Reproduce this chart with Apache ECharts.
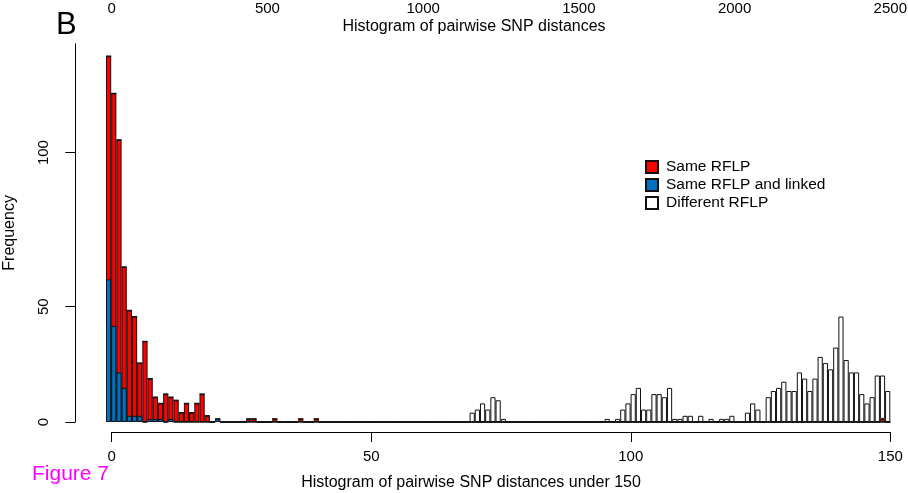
<!DOCTYPE html>
<html>
<head>
<meta charset="utf-8">
<script src="https://cdn.jsdelivr.net/npm/echarts@6/dist/echarts.min.js"></script>
<style>html,body{margin:0;padding:0;background:#fff}#c{width:908px;height:493px}</style>
</head>
<body>
<div id="c"></div>
<script>
// Bin k holds pairwise SNP distance k (bars span k-1..k)
const bins = Array.from({length:151}, (_, k) => String(k));

// Same RFLP (red)
const sameRFLP = [
118,106,91,50,36,34,19,26,14,8,
6,9,8,7,3,6,3,6,9,2,
0,1,0,0,0,0,0,1,1,0,
0,0,1,0,0,0,0,1,0,0,
1,0,0,0,0,0,0,0,0,0,
0,0,0,0,0,0,0,0,0,0,
0,0,0,0,0,0,0,0,0,0,
0,0,0,0,0,0,0,0,0,0,
0,0,0,0,0,0,0,0,0,0,
0,0,0,0,0,0,0,0,0,0,
0,0,0,0,0,0,0,0,0,0,
0,0,0,0,0,0,0,0,0,0,
0,0,0,0,0,0,0,0,0,0,
0,0,0,0,0,0,0,0,0,0,
0,0,0,0,0,0,0,0,0,1,
0];

// Same RFLP and linked (blue)
const sameLinked = [
46,31,16,11,2,2,2,0,1,1,
1,0,1,0,0,0,0,0,0,0,
0,1,0,0,0,0,0,0,0,0,
0,0,0,0,0,0,0,0,0,0,
0,0,0,0,0,0,0,0,0,0,
0,0,0,0,0,0,0,0,0,0,
0,0,0,0,0,0,0,0,0,0,
0,0,0,0,0,0,0,0,0,0,
0,0,0,0,0,0,0,0,0,0,
0,0,0,0,0,0,0,0,0,0,
0,0,0,0,0,0,0,0,0,0,
0,0,0,0,0,0,0,0,0,0,
0,0,0,0,0,0,0,0,0,0,
0,0,0,0,0,0,0,0,0,0,
0,0,0,0,0,0,0,0,0,0,
0];

// Different RFLP (white), stacked above the red counts
const diffRFLP = [
0,0,0,0,0,0,0,0,0,0,
0,0,0,0,0,0,0,0,0,0,
0,0,0,0,0,0,0,0,0,0,
0,0,0,0,0,0,0,0,0,0,
0,0,0,0,0,0,0,0,0,0,
0,0,0,0,0,0,0,0,0,0,
0,0,0,0,0,0,0,0,0,0,
3,4,6,4,8,7,1,0,0,0,
0,0,0,0,0,0,0,0,0,0,
0,0,0,0,0,0,1,0,1,4,
6,9,11,4,4,9,9,8,11,1,
1,2,2,0,2,0,1,0,1,1,
2,0,0,3,6,4,0,8,10,11,
13,10,10,16,14,10,14,21,19,17,
24,34,20,16,16,9,6,8,15,14,
10];

// Printed y-axis ticks and where they sit on the count scale of the bars
const yTickLabels = ['0','50','100'];
const yTickAt = [0, 37.2, 86.9];

// Bottom axis (distances under 150) and top axis (all distances)
const bottomTicks = [0, 50, 100, 150];
const topTicks = [0, 500, 1000, 1500, 2000, 2500];

const FONT = "'Liberation Sans', Arial, Helvetica, sans-serif";
const chart = echarts.init(document.getElementById('c'), null, {renderer:'canvas'});
const barBorder = {borderColor:'#111', borderWidth:1};
const plain = {fontFamily:FONT, fontWeight:'normal', color:'#000'};

chart.setOption({
  animation:false,
  backgroundColor:'#ffffff',
  textStyle:{fontFamily:FONT, color:'#000'},
  title:[
    {text:'B', left:51, top:5, textStyle:Object.assign({fontSize:31}, plain)},
    {text:'Figure 7', left:27, top:459, textStyle:{fontFamily:FONT, fontSize:21, fontWeight:'normal', color:'#FF00FF'}},
    {text:'Histogram of pairwise SNP distances', left:469, top:14, textAlign:'center', textStyle:Object.assign({fontSize:16}, plain)},
    {text:'Histogram of pairwise SNP distances under 150', left:466, top:470, textAlign:'center', textStyle:Object.assign({fontSize:16}, plain)}
  ],
  legend:{
    orient:'vertical', left:640, top:154, itemWidth:12, itemHeight:12, itemGap:2,
    icon:'rect',
    data:['Same RFLP','Same RFLP and linked','Different RFLP'],
    textStyle:{fontFamily:FONT, fontSize:15.5, color:'#000', padding:[0,0,0,3]}
  },
  grid:[
    {left:106, right:17.7, top:43.8, bottom:71, containLabel:false, outerBoundsMode:'none'},
    {left:111.7, right:17.7, top:40, bottom:61, containLabel:false, outerBoundsMode:'none'}
  ],
  xAxis:[
    {type:'category', gridIndex:0, data:bins, show:false},
    {type:'value', gridIndex:1, min:bottomTicks[0], max:bottomTicks[bottomTicks.length-1], interval:50, position:'bottom',
     axisLine:{show:true, lineStyle:{color:'#000', width:1}},
     axisTick:{show:true, length:10, lineStyle:{color:'#000'}},
     axisLabel:{color:'#000', fontSize:15, margin:17, fontFamily:FONT},
     splitLine:{show:false}},
    {type:'value', gridIndex:1, min:topTicks[0], max:topTicks[topTicks.length-1], interval:500, position:'top',
     axisLine:{show:false}, axisTick:{show:false},
     axisLabel:{color:'#000', fontSize:15, margin:24, fontFamily:FONT, formatter:(v)=>String(v)},
     splitLine:{show:false}}
  ],
  yAxis:[
    {type:'value', gridIndex:0, min:0, max:122, position:'left', offset:30.7,
     axisLine:{show:true, lineStyle:{color:'#000', width:1}},
     axisTick:{show:true, length:10, customValues:yTickAt, lineStyle:{color:'#000'}},
     axisLabel:{show:true, customValues:yTickAt, rotate:90, margin:24, fontSize:15, color:'#000', fontFamily:FONT,
       formatter:(v)=>{ let b=0; yTickAt.forEach((t,i)=>{ if (Math.abs(t-v)<Math.abs(yTickAt[b]-v)) b=i; }); return yTickLabels[b]; }},
     splitLine:{show:false},
     name:'Frequency', nameLocation:'middle', nameGap:58, nameRotate:90, nameMoveOverlap:false,
     nameTextStyle:{fontSize:16, color:'#000', fontFamily:FONT}},
    {type:'value', gridIndex:1, min:0, max:1, show:false}
  ],
  series:[
    {name:'Same RFLP', type:'bar', xAxisIndex:0, yAxisIndex:0, stack:'all', data:sameRFLP,
     barCategoryGap:'0%', barGap:'-100%', itemStyle:Object.assign({color:'#FF0000'}, barBorder)},
    {name:'Different RFLP', type:'bar', xAxisIndex:0, yAxisIndex:0, stack:'all', data:diffRFLP,
     barCategoryGap:'0%', barGap:'-100%', itemStyle:Object.assign({color:'#FFFFFF'}, barBorder)},
    {name:'Same RFLP and linked', type:'bar', xAxisIndex:0, yAxisIndex:0, data:sameLinked,
     barCategoryGap:'0%', barGap:'-100%', itemStyle:Object.assign({color:'#0070C0'}, barBorder)}
  ]
});
</script>
</body>
</html>
